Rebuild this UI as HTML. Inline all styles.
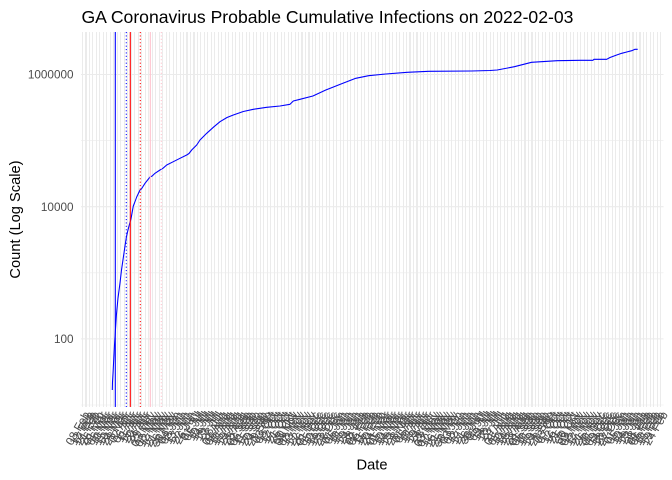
<!DOCTYPE html>
<html>
<head>
<meta charset="utf-8">
<style>
  html, body { margin:0; padding:0; background:#fff; }
  body { width:672px; height:480px; position:relative; overflow:hidden; font-family:"Liberation Sans", Arial, sans-serif; }
  .xl { position:absolute; left:80.755px; top:410px; display:flex; height:0; }
  .xl span { flex:none; width:3.49px; height:0; position:relative; }
  .xl span::before { content:""; position:absolute; left:1.21px; top:-378px; width:1.07px; height:375px; background:#EBEBEB; }
  .xl i { position:absolute; right:1.745px; top:0; transform-origin:100% 0; transform:rotate(-60deg);
          font-style:normal; white-space:nowrap; line-height:1; font-size:11.73px; color:#4D4D4D; }
  svg { position:absolute; left:0; top:0; }
</style>
</head>
<body>
<div class="xl">
<span><i>08 Feb</i></span><span><i>12 Feb</i></span><span><i>17 Feb</i></span><span><i>21 Feb</i></span><span><i>26 Feb</i></span>
<span><i>01 Mar</i></span><span><i>06 Mar</i></span><span><i>10 Mar</i></span><span><i>15 Mar</i></span><span><i>19 Mar</i></span>
<span><i>24 Mar</i></span><span><i>28 Mar</i></span><span><i>02 Apr</i></span><span><i>06 Apr</i></span><span><i>11 Apr</i></span>
<span><i>15 Apr</i></span><span><i>20 Apr</i></span><span><i>24 Apr</i></span><span><i>29 Apr</i></span><span><i>03 May</i></span>
<span><i>08 May</i></span><span><i>12 May</i></span><span><i>17 May</i></span><span><i>21 May</i></span><span><i>26 May</i></span>
<span><i>30 May</i></span><span><i>04 Jun</i></span><span><i>08 Jun</i></span><span><i>13 Jun</i></span><span><i>17 Jun</i></span>
<span><i>22 Jun</i></span><span><i>26 Jun</i></span><span><i>01 Jul</i></span><span><i>05 Jul</i></span><span><i>10 Jul</i></span>
<span><i>14 Jul</i></span><span><i>19 Jul</i></span><span><i>23 Jul</i></span><span><i>28 Jul</i></span><span><i>01 Aug</i></span>
<span><i>06 Aug</i></span><span><i>10 Aug</i></span><span><i>15 Aug</i></span><span><i>19 Aug</i></span><span><i>24 Aug</i></span>
<span><i>28 Aug</i></span><span><i>02 Sep</i></span><span><i>06 Sep</i></span><span><i>11 Sep</i></span><span><i>15 Sep</i></span>
<span><i>20 Sep</i></span><span><i>24 Sep</i></span><span><i>29 Sep</i></span><span><i>03 Oct</i></span><span><i>08 Oct</i></span>
<span><i>12 Oct</i></span><span><i>17 Oct</i></span><span><i>21 Oct</i></span><span><i>26 Oct</i></span><span><i>30 Oct</i></span>
<span><i>04 Nov</i></span><span><i>08 Nov</i></span><span><i>13 Nov</i></span><span><i>17 Nov</i></span><span><i>22 Nov</i></span>
<span><i>26 Nov</i></span><span><i>01 Dec</i></span><span><i>05 Dec</i></span><span><i>10 Dec</i></span><span><i>14 Dec</i></span>
<span><i>19 Dec</i></span><span><i>23 Dec</i></span><span><i>28 Dec</i></span><span><i>01 Jan</i></span><span><i>06 Jan</i></span>
<span><i>10 Jan</i></span><span><i>15 Jan</i></span><span><i>19 Jan</i></span><span><i>24 Jan</i></span><span><i>28 Jan</i></span>
<span><i>02 Feb</i></span><span><i>06 Feb</i></span><span><i>11 Feb</i></span><span><i>15 Feb</i></span><span><i>20 Feb</i></span>
<span><i>24 Feb</i></span><span><i>01 Mar</i></span><span><i>05 Mar</i></span><span><i>10 Mar</i></span><span><i>14 Mar</i></span>
<span><i>19 Mar</i></span><span><i>23 Mar</i></span><span><i>28 Mar</i></span><span><i>01 Apr</i></span><span><i>06 Apr</i></span>
<span><i>10 Apr</i></span><span><i>15 Apr</i></span><span><i>19 Apr</i></span><span><i>24 Apr</i></span><span><i>28 Apr</i></span>
<span><i>03 May</i></span><span><i>07 May</i></span><span><i>12 May</i></span><span><i>16 May</i></span><span><i>21 May</i></span>
<span><i>25 May</i></span><span><i>30 May</i></span><span><i>03 Jun</i></span><span><i>08 Jun</i></span><span><i>12 Jun</i></span>
<span><i>17 Jun</i></span><span><i>21 Jun</i></span><span><i>26 Jun</i></span><span><i>30 Jun</i></span><span><i>05 Jul</i></span>
<span><i>09 Jul</i></span><span><i>14 Jul</i></span><span><i>18 Jul</i></span><span><i>23 Jul</i></span><span><i>27 Jul</i></span>
<span><i>01 Aug</i></span><span><i>05 Aug</i></span><span><i>10 Aug</i></span><span><i>14 Aug</i></span><span><i>19 Aug</i></span>
<span><i>23 Aug</i></span><span><i>28 Aug</i></span><span><i>01 Sep</i></span><span><i>06 Sep</i></span><span><i>10 Sep</i></span>
<span><i>15 Sep</i></span><span><i>19 Sep</i></span><span><i>24 Sep</i></span><span><i>28 Sep</i></span><span><i>03 Oct</i></span>
<span><i>07 Oct</i></span><span><i>12 Oct</i></span><span><i>16 Oct</i></span><span><i>21 Oct</i></span><span><i>25 Oct</i></span>
<span><i>30 Oct</i></span><span><i>03 Nov</i></span><span><i>08 Nov</i></span><span><i>12 Nov</i></span><span><i>17 Nov</i></span>
<span><i>21 Nov</i></span><span><i>26 Nov</i></span><span><i>30 Nov</i></span><span><i>05 Dec</i></span><span><i>09 Dec</i></span>
<span><i>14 Dec</i></span><span><i>18 Dec</i></span><span><i>23 Dec</i></span><span><i>27 Dec</i></span><span><i>01 Jan</i></span>
<span><i>05 Jan</i></span><span><i>10 Jan</i></span><span><i>14 Jan</i></span><span><i>19 Jan</i></span><span><i>23 Jan</i></span>
<span><i>28 Jan</i></span><span><i>01 Feb</i></span><span><i>06 Feb</i></span><span><i>10 Feb</i></span><span><i>15 Feb</i></span>
<span><i>19 Feb</i></span><span><i>24 Feb</i></span>
</div>

<svg width="672" height="480" viewBox="0 0 672 480" xmlns="http://www.w3.org/2000/svg">
  <!-- horizontal gridlines -->
  <g stroke="#EBEBEB" fill="none">
    <line x1="81" y1="140.6" x2="663.5" y2="140.6" stroke-width="0.6"/>
    <line x1="81" y1="272.8" x2="663.5" y2="272.8" stroke-width="0.6"/>
    <line x1="81" y1="405" x2="663.5" y2="405" stroke-width="0.6"/>
    <line x1="81" y1="74.5" x2="663.5" y2="74.5" stroke-width="1.07"/>
    <line x1="81" y1="206.7" x2="663.5" y2="206.7" stroke-width="1.07"/>
    <line x1="81" y1="338.9" x2="663.5" y2="338.9" stroke-width="1.07"/>
  </g>

  <!-- curve -->
  <polyline fill="none" stroke="#0000FF" stroke-width="1.07" stroke-linejoin="round"
    points="112.3,390 112.5,382 113.1,372 113.8,358 114.5,345 115.3,332 116.4,315 118,298 120,283 121.5,270 123.4,257 125,246 126.4,237 127.5,232 129,226 130.7,220 131.5,216 133.3,206 134.5,203 136.7,197 140,190 141.4,189 145,183.3 150,177 152.2,176 155,173.3 160,170 162.9,168.3 166.7,165 173.3,161.7 180,158.3 186.7,155 189,153.5 191.7,150 196.7,145 200,140 206.7,133.3 213.3,127.3 220,121.7 227,117.5 233.3,115 243.3,111.5 253.3,109.3 266.7,107.3 280,106 290,104.3 293.3,101 300,99.3 312.9,96 325.8,90 342.9,83.3 355.8,78.3 368.6,75.7 385.8,74 407.2,72.3 428.6,71.3 471.5,71 490,70.5 497.2,70 514.4,66.7 531.5,62.3 557.2,60.7 580,60.3 593,60.3 594,59.3 606.7,59.3 610,57.5 616.7,55 621.7,53.3 626.7,52 631.7,50.7 635,49.3 637.7,49.3"/>

  <!-- vertical reference lines -->
  <line x1="115.3" y1="32" x2="115.3" y2="407" stroke="#0000FF" stroke-width="1.07"/>
  <line x1="126.3" y1="32" x2="126.3" y2="407" stroke="#0000FF" stroke-width="1.07" stroke-dasharray="1.1 2.3"/>
  <line x1="130.3" y1="32" x2="130.3" y2="407" stroke="#FF0000" stroke-width="1.07"/>
  <line x1="140.3" y1="32" x2="140.3" y2="407" stroke="#FF0000" stroke-width="1.07" stroke-dasharray="1.1 2.3"/>
  <line x1="150.3" y1="32" x2="150.3" y2="407" stroke="#FFC0CB" stroke-width="1.07"/>
  <line x1="161.3" y1="32" x2="161.3" y2="407" stroke="#FFC0CB" stroke-width="1.07" stroke-dasharray="1.1 2.3"/>

  <!-- y axis labels -->
  <g font-family="Liberation Sans, Arial, sans-serif" font-size="11.73" fill="#4D4D4D" text-anchor="end">
    <text x="73.5" y="78.7">1000000</text>
    <text x="73.5" y="210.9">10000</text>
    <text x="73.5" y="343.1">100</text>
  </g>

  <!-- titles -->
  <text x="81.5" y="23" font-family="Liberation Sans, Arial, sans-serif" font-size="17.6" fill="#000">GA Coronavirus Probable Cumulative Infections on 2022-02-03</text>
  <text x="372" y="469.5" font-family="Liberation Sans, Arial, sans-serif" font-size="14.67" fill="#000" text-anchor="middle">Date</text>
  <text transform="translate(19.8,219.5) rotate(-90)" font-family="Liberation Sans, Arial, sans-serif" font-size="14.67" fill="#000" text-anchor="middle">Count (Log Scale)</text>
</svg>
</body>
</html>
